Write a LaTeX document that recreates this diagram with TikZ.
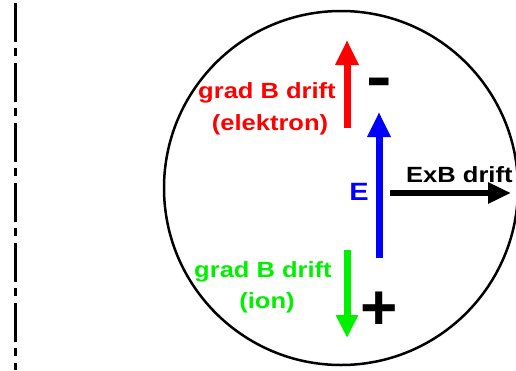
\documentclass[tikz,border=0pt]{standalone}
\usepackage{fontspec}
\setmainfont{Liberation Sans}
\usetikzlibrary{arrows.meta}
\definecolor{gbred}{RGB}{255,0,0}
\definecolor{gbgreen}{RGB}{0,240,0}
\definecolor{eblue}{RGB}{0,0,255}
\tikzset{
  lbl/.style={inner sep=0pt, anchor=base, font=\bfseries\fontsize{22}{26}\selectfont},
  fatarrow/.style={line width=7pt, -{Triangle[length=25pt,width=22pt]}},
}
\newcommand{\wide}[1]{\scalebox{1.16}[1]{#1}}
\begin{document}
\begin{tikzpicture}[x=1pt,y=-1pt]
\useasboundingbox (0,0) rectangle (516,370);
\clip (0,0) rectangle (516,370);
% axis (dash-dot)
\coordinate (axtop) at (15,3);
\coordinate (axbot) at (15,370);
\draw[line width=3pt, dash pattern=on 39pt off 6pt on 8pt off 7pt] (axtop) -- (axbot);
% plasma cross-section
\node[circle, draw, line width=2.5pt, minimum size=354pt, inner sep=0pt] (c) at (341,188) {};
% red grad B drift (electron)
\coordinate (r0) at (347,128);
\coordinate (r1) at (347,40);
\draw[fatarrow, gbred] (r0) -- (r1);
\node[lbl, gbred] (rt1) at (267,98) {\wide{grad B drift}};
\node[lbl, gbred] (rt2) at (270,130) {\wide{(elektron)}};
% minus
\node[inner sep=0pt, font=\bfseries\fontsize{64}{70}\selectfont] (minus) at (379,88) {\scalebox{1.2}[1]{-}};
% E field
\coordinate (b0) at (379,258);
\coordinate (b1) at (379,112);
\draw[fatarrow, eblue] (b0) -- (b1);
\node[lbl, eblue, font=\bfseries\fontsize{25}{30}\selectfont] (E) at (359,200) {\wide{E}};
% ExB drift
\coordinate (k0) at (390,193);
\coordinate (k1) at (511,193);
\draw[line width=6pt, -{Triangle[length=23pt,width=20pt]}] (k0) -- (k1);
\node[lbl, anchor=base west] (exb) at (406,182) {\wide{ExB drift}};
% green grad B drift (ion)
\coordinate (g0) at (347,250);
\coordinate (g1) at (347,338);
\draw[fatarrow, gbgreen, -{Triangle[length=23pt,width=21pt]}] (g0) -- (g1);
\node[lbl, gbgreen] (gt1) at (263,277) {\wide{grad B drift}};
\node[lbl, gbgreen] (gt2) at (267,308) {\wide{(ion)}};
% plus
\node[inner sep=0pt, font=\bfseries\fontsize{64}{70}\selectfont] (plus) at (379,311) {+};
\end{tikzpicture}
\end{document}
